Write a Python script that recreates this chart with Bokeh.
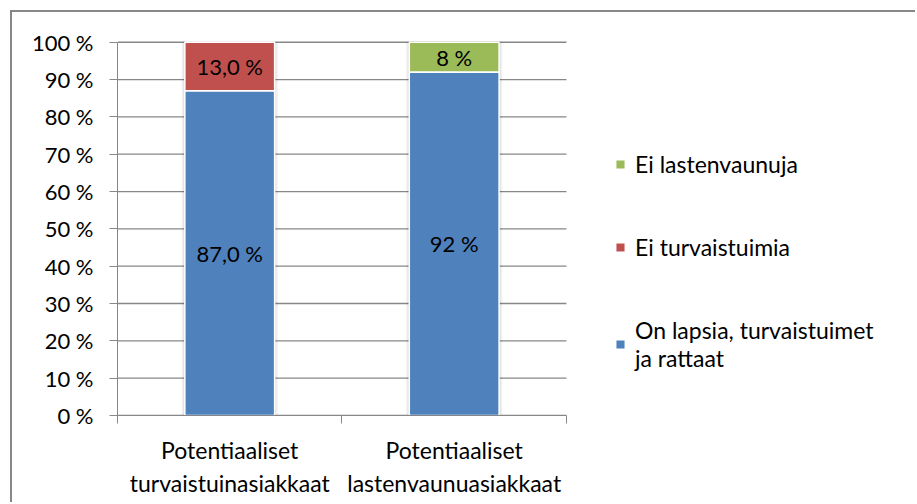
from bokeh.plotting import figure
from bokeh.models import (ColumnDataSource, Range1d, LinearAxis, FixedTicker, Legend,
                          LegendItem, LabelSet)
from bokeh.core.properties import value
from bokeh.embed import file_html
from bokeh.resources import INLINE

# --- data -------------------------------------------------------------
categories = ["Potentiaaliset\nturvaistuinasiakkaat", "Potentiaaliset\nlastenvaunuasiakkaat"]
series_names = ["On lapsia, turvaistuimet\nja rattaat", "Ei turvaistuimia", "Ei lastenvaunuja"]
on_lapsia = [87.0, 92.0]
ei_turvaistuimia = [13.0, 0.0]
ei_lastenvaunuja = [0.0, 8.0]
labels_on_lapsia = ["87,0 %", "92 %"]
labels_ei_turvaistuimia = ["13,0 %", ""]
labels_ei_lastenvaunuja = ["", "8 %"]
y_ticks = [0, 10, 20, 30, 40, 50, 60, 70, 80, 90, 100]

colors = ["#4F81BD", "#C0504D", "#9BBB59"]
FONT = "Lato"
GRAY = "#878787"

n = len(categories)
xpos = [i + 0.5 for i in range(n)]          # category slot centres
edges = list(range(n + 1))                  # category slot boundaries
X_END = 3.564                               # room right of the slots for the legend
Y_TOP = 101                                 # a little headroom so the 100 % line is whole

src = ColumnDataSource(dict(
    x=xpos,
    a=on_lapsia,
    b=ei_turvaistuimia,
    c=ei_lastenvaunuja,
))

# the chart sits in a frame whose left and top edges are visible
p = figure(width=905, height=492, x_range=Range1d(0, X_END), y_range=Range1d(0, Y_TOP),
           output_backend="svg", toolbar_location=None, x_axis_location=None,
           min_border_left=105, min_border_right=0, min_border_top=26,
           min_border_bottom=89,
           styles={"margin-left": "10px", "margin-top": "10px",
                   "border-left": f"2px solid {GRAY}", "border-top": f"2px solid {GRAY}"})
p.outline_line_color = None
p.background_fill_color = "white"
p.border_fill_color = "white"
p.xgrid.visible = False
p.ygrid.visible = False

# horizontal grid lines across the category slots only
p.segment(x0=[0] * len(y_ticks), x1=[n] * len(y_ticks), y0=y_ticks, y1=y_ticks,
          line_color=GRAY, line_width=1.3)

# soft shadow behind the columns
totals = [a + b + c for a, b, c in zip(on_lapsia, ei_turvaistuimia, ei_lastenvaunuja)]
shadow_src = ColumnDataSource(dict(x=xpos, top=totals))
p.vbar(x="x", top="top", bottom=0, width=0.43, source=shadow_src,
       fill_color="black", fill_alpha=0.05, line_color=None)
p.vbar(x="x", top="top", bottom=0, width=0.415, source=shadow_src,
       fill_color="black", fill_alpha=0.07, line_color=None)

bars = p.vbar_stack(["a", "b", "c"], x="x", width=0.4, source=src, color=colors,
                    line_color="white", line_width=1.5)

# value labels in the middle of each segment
mid_a = [v / 2 for v in on_lapsia]
mid_b = [a + b / 2 for a, b in zip(on_lapsia, ei_turvaistuimia)]
mid_c = [a + b + c / 2 for a, b, c in zip(on_lapsia, ei_turvaistuimia, ei_lastenvaunuja)]
lab_src = ColumnDataSource(dict(
    x=xpos * 3,
    y=mid_a + mid_b + mid_c,
    text=labels_on_lapsia + labels_ei_turvaistuimia + labels_ei_lastenvaunuja,
))
p.add_layout(LabelSet(x="x", y="y", text="text", source=lab_src, text_align="center",
                      text_baseline="middle", text_font=value(FONT),
                      text_font_size="22px", text_color="black"))

# y axis
yax = p.yaxis[0]
yax.bounds = (0, 100)
yax.ticker = FixedTicker(ticks=y_ticks)
yax.major_label_overrides = {t: f"{t} %" for t in y_ticks}
yax.major_label_text_font = FONT
yax.major_label_text_font_size = "22px"
yax.major_label_text_color = "black"
yax.major_label_standoff = 16
yax.axis_line_color = GRAY
yax.major_tick_line_color = GRAY
yax.major_tick_out = 8
yax.major_tick_in = 0
yax.minor_tick_line_color = None

# x axis: tick marks on slot boundaries, category names centred beneath
edge_axis = LinearAxis(ticker=FixedTicker(ticks=edges), bounds=(0, n),
                       major_label_text_font_size="0px", major_label_standoff=0,
                       axis_line_color=GRAY, major_tick_line_color=GRAY,
                       major_tick_out=8, major_tick_in=0, minor_tick_line_color=None)
edge_axis.major_label_overrides = {e: "" for e in edges}
p.add_layout(edge_axis, "below")
name_axis = LinearAxis(ticker=FixedTicker(ticks=xpos), bounds=(0, n),
                       axis_line_color=None, major_tick_line_color=None,
                       minor_tick_line_color=None,
                       major_label_text_font=FONT, major_label_text_font_size="23px",
                       major_label_text_color="black", major_label_standoff=6)
name_axis.major_label_overrides = {x: c for x, c in zip(xpos, categories)}
p.add_layout(name_axis, "below")

# legend to the right of the category slots
legend = Legend(items=[
    LegendItem(label=series_names[2], renderers=[bars[2]]),
    LegendItem(label=series_names[1], renderers=[bars[1]]),
    LegendItem(label=series_names[0], renderers=[bars[0]]),
], location=(497, 43), orientation="vertical", border_line_color=None,
    background_fill_alpha=0, padding=0, margin=0, spacing=55,
    glyph_width=12, glyph_height=12, label_standoff=9,
    label_text_font=FONT, label_text_font_size="23px", label_text_color="black")
p.add_layout(legend, "center")

open("out.html", "w").write(file_html(p, INLINE))
